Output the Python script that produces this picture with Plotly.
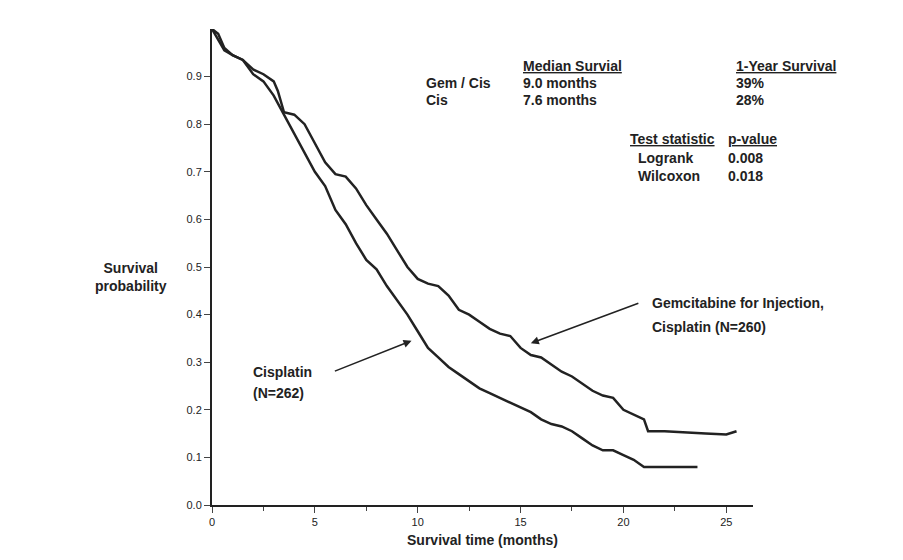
import plotly.graph_objects as go

# Kaplan-Meier curves
gem_t = [0, 0.3, 0.6, 1, 1.5, 2, 2.5, 3, 3.2, 3.5, 4, 4.5, 5, 5.5, 6, 6.5, 7, 7.5, 8, 8.5, 9, 9.5,
         10, 10.5, 11, 11.5, 12, 12.5, 13, 13.5, 14, 14.5, 15, 15.5, 16, 16.5, 17, 17.5, 18, 18.5,
         19, 19.5, 20, 20.5, 21, 21.2, 22, 24, 25, 25.5]
gem_s = [1.0, 0.99, 0.96, 0.945, 0.935, 0.915, 0.905, 0.89, 0.87, 0.825, 0.82, 0.80, 0.76, 0.72,
         0.695, 0.69, 0.665, 0.63, 0.60, 0.57, 0.535, 0.50, 0.475, 0.465, 0.46, 0.44, 0.41, 0.40,
         0.385, 0.37, 0.36, 0.355, 0.33, 0.315, 0.31, 0.295, 0.28, 0.27, 0.255, 0.24, 0.23, 0.225,
         0.20, 0.19, 0.18, 0.155, 0.155, 0.15, 0.148, 0.155]
cis_t = [0, 0.6, 1, 1.5, 2, 2.5, 3, 3.5, 4, 4.5, 5, 5.5, 6, 6.5, 7, 7.5, 8, 8.5, 9, 9.5, 10, 10.5,
         11, 11.5, 12, 12.5, 13, 13.5, 14, 14.5, 15, 15.5, 16, 16.5, 17, 17.5, 18, 18.5, 19, 19.5,
         20, 20.5, 21, 22, 23.6]
cis_s = [1.0, 0.955, 0.945, 0.935, 0.905, 0.89, 0.86, 0.82, 0.78, 0.74, 0.70, 0.67, 0.62, 0.59,
         0.55, 0.515, 0.495, 0.46, 0.43, 0.40, 0.365, 0.33, 0.31, 0.29, 0.275, 0.26, 0.245, 0.235,
         0.225, 0.215, 0.205, 0.195, 0.18, 0.17, 0.165, 0.155, 0.14, 0.125, 0.115, 0.115, 0.105,
         0.095, 0.08, 0.08, 0.08]

FONT = "Liberation Sans"
INK = "#222"

fig = go.Figure()
fig.add_trace(go.Scatter(x=gem_t, y=gem_s, mode="lines", line=dict(color=INK, width=2.5)))
fig.add_trace(go.Scatter(x=cis_t, y=cis_s, mode="lines", line=dict(color=INK, width=2.5)))


def txt(x, y, s, xanchor="left"):
    fig.add_annotation(x=x, y=y, text="<b>" + s + "</b>", showarrow=False, xanchor=xanchor,
                       font=dict(family=FONT, size=14, color=INK))


txt(15.0, 0.922, "<u>Median Survial</u>")
txt(25.4, 0.922, "<u>1-Year Survival</u>")
txt(10.3, 0.887, "Gem / Cis")
txt(15.0, 0.887, "9.0 months")
txt(25.4, 0.887, "39%")
txt(10.3, 0.850, "Cis")
txt(15.0, 0.850, "7.6 months")
txt(25.4, 0.850, "28%")
txt(20.2, 0.769, "<u>Test statistic</u>")
txt(25.0, 0.769, "<u>p-value</u>")
txt(20.6, 0.729, "Logrank")
txt(25.0, 0.729, "0.008")
txt(20.6, 0.691, "Wilcoxon")
txt(25.0, 0.691, "0.018")
txt(21.3, 0.425, "Gemcitabine for Injection,")
txt(21.3, 0.375, "Cisplatin (N=260)")
txt(1.9, 0.28, "Cisplatin")
txt(1.9, 0.235, "(N=262)")

fig.add_annotation(x=15.5, y=0.34, ax=20.8, ay=0.425, axref="x", ayref="y", text="",
                   showarrow=True, arrowhead=2, arrowwidth=1.6, arrowcolor=INK)
fig.add_annotation(x=9.7, y=0.345, ax=5.9, ay=0.28, axref="x", ayref="y", text="",
                   showarrow=True, arrowhead=2, arrowwidth=1.6, arrowcolor=INK)

fig.add_annotation(x=-0.22, y=0.48, xref="paper", yref="paper", showarrow=False,
                   text="<b>Survival<br>probability</b>",
                   font=dict(family=FONT, size=14, color=INK))

fig.update_layout(
    width=903, height=560, showlegend=False,
    paper_bgcolor="white", plot_bgcolor="white",
    margin=dict(l=204, r=158, t=21, b=63),
    font=dict(family=FONT, size=11, color=INK),
)
fig.update_xaxes(range=[0, 26.3], tickvals=[0, 5, 10, 15, 20, 25], ticks="outside", ticklen=6,
                 minor=dict(tickvals=[2.5, 7.5, 12.5, 17.5, 22.5], ticks="outside", ticklen=4),
                 showline=True, linecolor=INK, linewidth=2, showgrid=False, zeroline=False,
                 title=dict(text="<b>Survival time (months)</b>", font=dict(size=14), standoff=8))
fig.update_yaxes(range=[0, 1.0], tickvals=[i / 10 for i in range(10)], tickformat=".1f",
                 ticks="outside", ticklen=6, showline=True, linecolor=INK, linewidth=2,
                 showgrid=False, zeroline=False)

fig.write_html("out.html")
